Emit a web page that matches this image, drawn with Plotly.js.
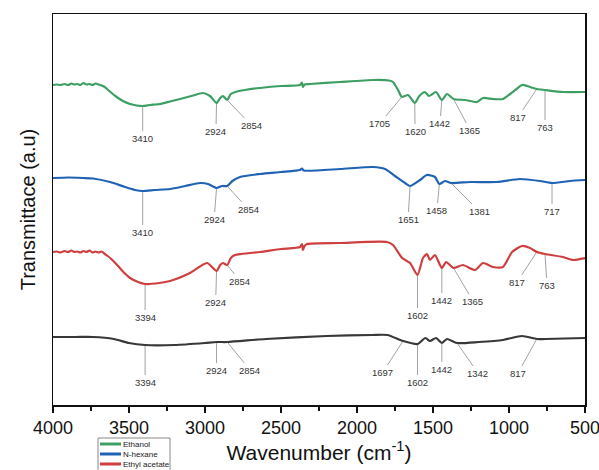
<!DOCTYPE html>
<html>
<head>
<meta charset="utf-8">
<script src="https://cdn.plot.ly/plotly-3.0.1.min.js"></script>
<style>body{margin:0;background:#fff}#chart{width:599px;height:470px}</style>
</head>
<body>
<div id="chart"></div>
<script>
// ---- data (wavenumber, cm-1 ; transmittance a.u. with vertical offsets) ----
const ethanolW = [4000,3975,3950,3925,3900,3880,3860,3840,3820,3800,3780,3760,3740,3720,3700,3680,3660,3630,3590,3540,3493,3450,3410,3360,3296,3230,3164,3090,3013,2967,2924,2900,2882,2854,2830,2800,2737,2638,2500,2375,2362,2356,2345,2309,2112,1895,1790,1763,1730,1705,1664,1620,1590,1553,1526,1480,1442,1408,1365,1289,1210,1171,1105,1040,993,950,915,880,862,817,763,645,500];
const ethanolT = [320,320.5,320,321,320,321.5,320.5,321,320,322,320.5,321,320,321.5,320.5,319.5,318,314,309,304,301,299.5,299,300,301,303.5,306,309,312,309,302,307,309,305,311,313,315,317,319,320,322.5,318,320.5,321,323,325,324.5,323,315,308,310,302,309,313,309,313,305,311,306,305,303,307,306,306,311,316,320,319,318,316,315,313,313];

const hexaneW = [4000,3900,3800,3737,3625,3526,3460,3410,3330,3230,3130,3033,2980,2924,2888,2854,2820,2770,2638,2500,2375,2362,2350,2112,1895,1816,1750,1684,1651,1586,1540,1487,1458,1421,1381,1257,1079,928,796,717,599,500];
const hexaneT = [227,227.5,227,226.5,223,218,215,214,215,216,219,222,221,217,219,219,224,228,231,233,235,236.5,234.5,236,238,236,229,222,219,225,230,228,221,224,222,223,223,226,224,222,224,225];

const ethylW = [4000,3975,3950,3925,3900,3880,3860,3840,3820,3800,3780,3760,3740,3720,3700,3680,3660,3640,3610,3572,3530,3493,3440,3394,3300,3230,3099,2987,2924,2900,2882,2854,2830,2803,2638,2500,2375,2362,2356,2345,2329,2112,1803,1763,1703,1651,1602,1566,1540,1520,1487,1442,1414,1365,1303,1224,1171,1105,1040,980,915,862,817,763,645,579,500];
const ethylT = [153,153.5,152.5,154,153,154.5,153,153.5,152.5,154,153,154.5,152.5,153.5,152.5,153.5,151,149,145,139,132,127,123,121,122,124,132,142,134,140,142,140,147,150,153,156,158,161,155,159,161,162,163,160,147,142,130,147,151,145,150,137,143,137,140,135,142,138,138,153,159,157,153,151,148,145,147];

const controlW = [4000,3850,3737,3600,3500,3394,3200,3000,2924,2854,2600,2200,1900,1800,1697,1602,1550,1520,1480,1442,1408,1342,1200,1040,915,817,763,500];
const controlT = [68,68,68,66,62,60,60,62,63,63,66,69,70,70,64,61,67,64,67,62,66,62,63,65,69,66,66,67];

// peak labels: wavenumber, label position (wavenumber, a.u.)
const ethanolPeaks  = [3410,2924,2854,1705,1620,1442,1365,817,763];
const ethanolLabW   = [3410,2928,2697,1849,1618,1454,1257,941,763];
const ethanolLabT   = [267,274,280,282,274,282,275,288,278];

const hexanePeaks   = [3410,2924,2854,1651,1458,1381,717];
const hexaneLabW    = [3410,2940,2717,1664,1474,1197,717];
const hexaneLabT    = [173,186,196,186,195,194,194];

const ethylPeaks    = [3394,2924,2854,1602,1442,1365,817,763];
const ethylLabW     = [3394,2930,2770,1602,1442,1237,947,750];
const ethylLabT     = [88,103,124,90,105,104,123,120];

const controlPeaks  = [3394,2924,2854,1697,1602,1442,1342,817];
const controlLabW   = [3394,2924,2704,1829,1602,1442,1204,941];
const controlLabT   = [23,35,35,33,23,36,32,32];

const legendNames = ['Ethanol','N-hexane','Ethyl acetate'];
const xTicks = [4000,3500,3000,2500,2000,1500,1000,500];

// ---- build ----
const font = '"Liberation Sans", Arial, sans-serif';
const colors = {'Ethanol':'#3d9f63','N-hexane':'#2063b5','Ethyl acetate':'#cf3f3f','Control':'#383838'};
const series = [
  {name:'Ethanol', w:ethanolW, t:ethanolT, peaks:ethanolPeaks, lw:ethanolLabW, lt:ethanolLabT},
  {name:'N-hexane', w:hexaneW, t:hexaneT, peaks:hexanePeaks, lw:hexaneLabW, lt:hexaneLabT},
  {name:'Ethyl acetate', w:ethylW, t:ethylT, peaks:ethylPeaks, lw:ethylLabW, lt:ethylLabT},
  {name:'Control', w:controlW, t:controlT, peaks:controlPeaks, lw:controlLabW, lt:controlLabT}
];

const traces = series.map(s => ({
  x: s.w, y: s.t, type:'scatter', mode:'lines', name:s.name,
  showlegend:false,
  line:{color:colors[s.name], width:2.2, shape:'spline', smoothing:0.6}
}));

const annotations = [];
series.forEach(s => {
  s.peaks.forEach((p, i) => {
    const idx = s.w.indexOf(p);
    annotations.push({
      x: p, y: s.t[idx], xref:'x', yref:'y',
      ax: s.lw[i], ay: s.lt[i], axref:'x', ayref:'y',
      text: String(p), showarrow:true, arrowhead:0, arrowwidth:0.8,
      arrowcolor:'#8a8a8a', standoff:1, startstandoff:0,
      font:{family:font, size:9.5, color:'#333'}
    });
  });
});

// legend (box partially cut at bottom, as in the reference)
const PX = v => (v-53)/532, PY = v => (405-v)/391;
const shapes = [{type:'rect', xref:'paper', yref:'paper', x0:PX(98), x1:PX(170), y0:PY(480), y1:PY(438),
  line:{color:'#888', width:1}, fillcolor:'#fff'}];
legendNames.forEach((n, i) => {
  const yy = PY(444 + i*10);
  shapes.push({type:'line', xref:'paper', yref:'paper', x0:PX(100), x1:PX(121), y0:yy, y1:yy,
    line:{color:colors[n], width:3}});
  annotations.push({xref:'paper', yref:'paper', x:PX(121), y:yy, xanchor:'left', yanchor:'middle',
    text:n, showarrow:false, font:{family:font, size:8, color:'#222'}});
});

const layout = {
  width:599, height:470,
  margin:{l:53, r:14, t:14, b:65, autoexpand:false},
  paper_bgcolor:'#fff', plot_bgcolor:'#fff',
  showlegend:false,
  xaxis:{range:[4000,500], tickvals:xTicks, ticktext:xTicks.map(String),
    ticklabeloverflow:'allow',
    showline:true, mirror:true, linecolor:'#111', linewidth:1.5,
    ticks:'outside', ticklen:6, tickwidth:1.5, tickcolor:'#111',
    minor:{dtick:250, ticks:'outside', ticklen:4, tickwidth:1.2, tickcolor:'#111'},
    showgrid:false, zeroline:false,
    tickfont:{family:font, size:18, color:'#111'},
    title:{text:'Wavenumber (cm<sup>-1</sup>)', font:{family:font, size:21, color:'#111'}, standoff:8}},
  yaxis:{range:[0,391], showline:true, mirror:true, linecolor:'#111', linewidth:1.5,
    showticklabels:false, ticks:'', showgrid:false, zeroline:false,
    title:{text:'Transmittace (a.u)', font:{family:font, size:20, color:'#111'}, standoff:10}},
  shapes: shapes,
  annotations: annotations
};

Plotly.newPlot('chart', traces, layout, {displayModeBar:false, staticPlot:true});
</script>
</body>
</html>
